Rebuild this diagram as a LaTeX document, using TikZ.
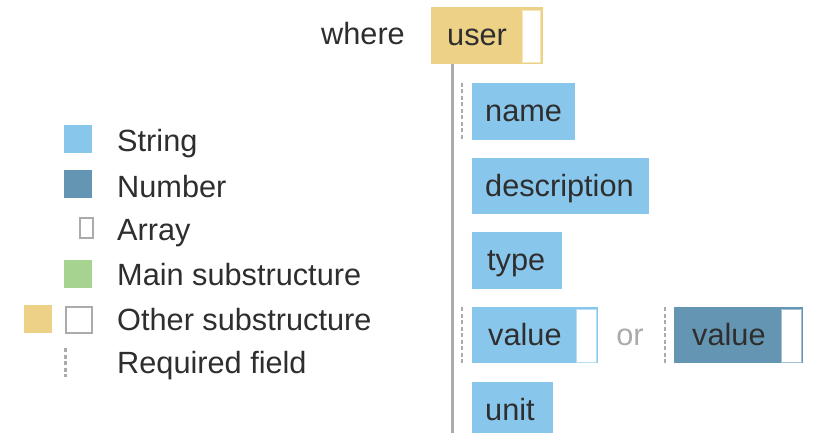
\documentclass[tikz,border=0pt]{standalone}
\usepackage{fontspec}
\setmainfont{Liberation Sans}
\definecolor{strc}{HTML}{89C6EC}
\definecolor{numc}{HTML}{6496B3}
\definecolor{yelc}{HTML}{ECD186}
\definecolor{grnc}{HTML}{A6D490}
\definecolor{linec}{HTML}{ABABAB}
\definecolor{txtc}{HTML}{2E2E2E}
\begin{document}
\begin{tikzpicture}[x=1pt,y=-1pt,
  box/.style={anchor=north west, inner sep=0pt, minimum height=57pt},
  strbox/.style={box, fill=strc},
  numbox/.style={box, fill=numc},
  usrbox/.style={box, fill=yelc},
  arr/.style={anchor=north east, inner sep=0pt, fill=white, line width=1pt},
  lbl/.style={anchor=base west, inner sep=0pt, text=txtc, font=\fontsize{30.7}{36}\selectfont},
  sq/.style={anchor=north west, inner sep=0pt, minimum width=28pt, minimum height=28pt},
  req/.style={draw=linec, line width=2.5pt, dash pattern=on 4pt off 2.5pt},
  trunk/.style={draw=linec, line width=3pt},
]
\clip (0,0) rectangle (819,433);
\fill[white] (0,0) rectangle (819,433);

% header
\node[lbl] (where) at (321,45) {where};
\node[usrbox, minimum width=112pt] (user) at (431,7) {};
\node[arr, draw=yelc!55, minimum width=18pt, minimum height=52pt] (userarr) at ([xshift=-2pt,yshift=-3pt]user.north east) {};
\node[lbl] (userT) at ([xshift=16pt,yshift=-10pt]user.west) {user};

% trunk
\coordinate (bot) at (452,433);
\draw[trunk] (user.south -| bot) -- (bot);

% fields
\node[strbox, minimum width=103pt] (name) at (472,83) {};
\node[lbl] (nameT) at ([xshift=13pt,yshift=-10pt]name.west) {name};
\draw[req] ([xshift=-10pt]name.north west) -- ([xshift=-10pt]name.south west);

\node[strbox, minimum width=177pt, minimum height=56pt] (desc) at (472,158) {};
\node[lbl] (descT) at ([xshift=13pt,yshift=-10.5pt]desc.west) {description};

\node[strbox, minimum width=90pt] (type) at (472,232) {};
\node[lbl] (typeT) at ([xshift=15pt,yshift=-10pt]type.west) {type};

\node[strbox, minimum width=126pt, minimum height=56pt] (val1) at (472,307) {};
\node[arr, draw=strc!60, minimum width=20pt, minimum height=53pt] (val1arr) at ([xshift=-1pt,yshift=-2pt]val1.north east) {};
\node[lbl] (val1T) at ([xshift=16pt,yshift=-10pt]val1.west) {value};
\draw[req] ([xshift=-10pt]val1.north west) -- ([xshift=-10pt]val1.south west);

\node[lbl, anchor=base, text=linec] (or) at (630,345) {or};

\node[numbox, minimum width=129pt, minimum height=56pt] (val2) at (674,307) {};
\node[arr, draw=numc!60, minimum width=20pt, minimum height=53pt] (val2arr) at ([xshift=-1pt,yshift=-2pt]val2.north east) {};
\node[lbl] (val2T) at ([xshift=18pt,yshift=-10pt]val2.west) {value};
\draw[req] ([xshift=-9pt]val2.north west) -- ([xshift=-9pt]val2.south west);

\node[strbox, minimum width=81pt, minimum height=70pt] (unit) at (472,382) {};
\node[lbl] (unitT) at (485,420) {unit};

% legend
\node[sq, fill=strc] (lstr) at (64,125) {};
\node[lbl] (lstrT) at (117,152) {String};
\node[sq, fill=numc] (lnum) at (64,170) {};
\node[lbl] (lnumT) at (117,197) {Number};
\node[anchor=north west, inner sep=0pt, minimum width=13pt, minimum height=20pt, draw=linec, line width=2pt, fill=white] (larr) at (79,217) {};
\node[lbl] (larrT) at (117,240) {Array};
\node[sq, fill=grnc] (lmain) at (64,260) {};
\node[lbl] (lmainT) at (117,285) {Main substructure};
\node[sq, fill=yelc] (loth1) at (24,305) {};
\node[sq, minimum width=26pt, minimum height=26pt, draw=linec, line width=2pt, fill=white] (loth2) at (65,306) {};
\node[lbl] (lothT) at (117,330) {Other substructure};
\coordinate (lreqA) at (65.5,348);
\coordinate (lreqB) at (65.5,377);
\draw[req] (lreqA) -- (lreqB);
\node[lbl] (lreqT) at (117,373) {Required field};
\end{tikzpicture}
\end{document}
